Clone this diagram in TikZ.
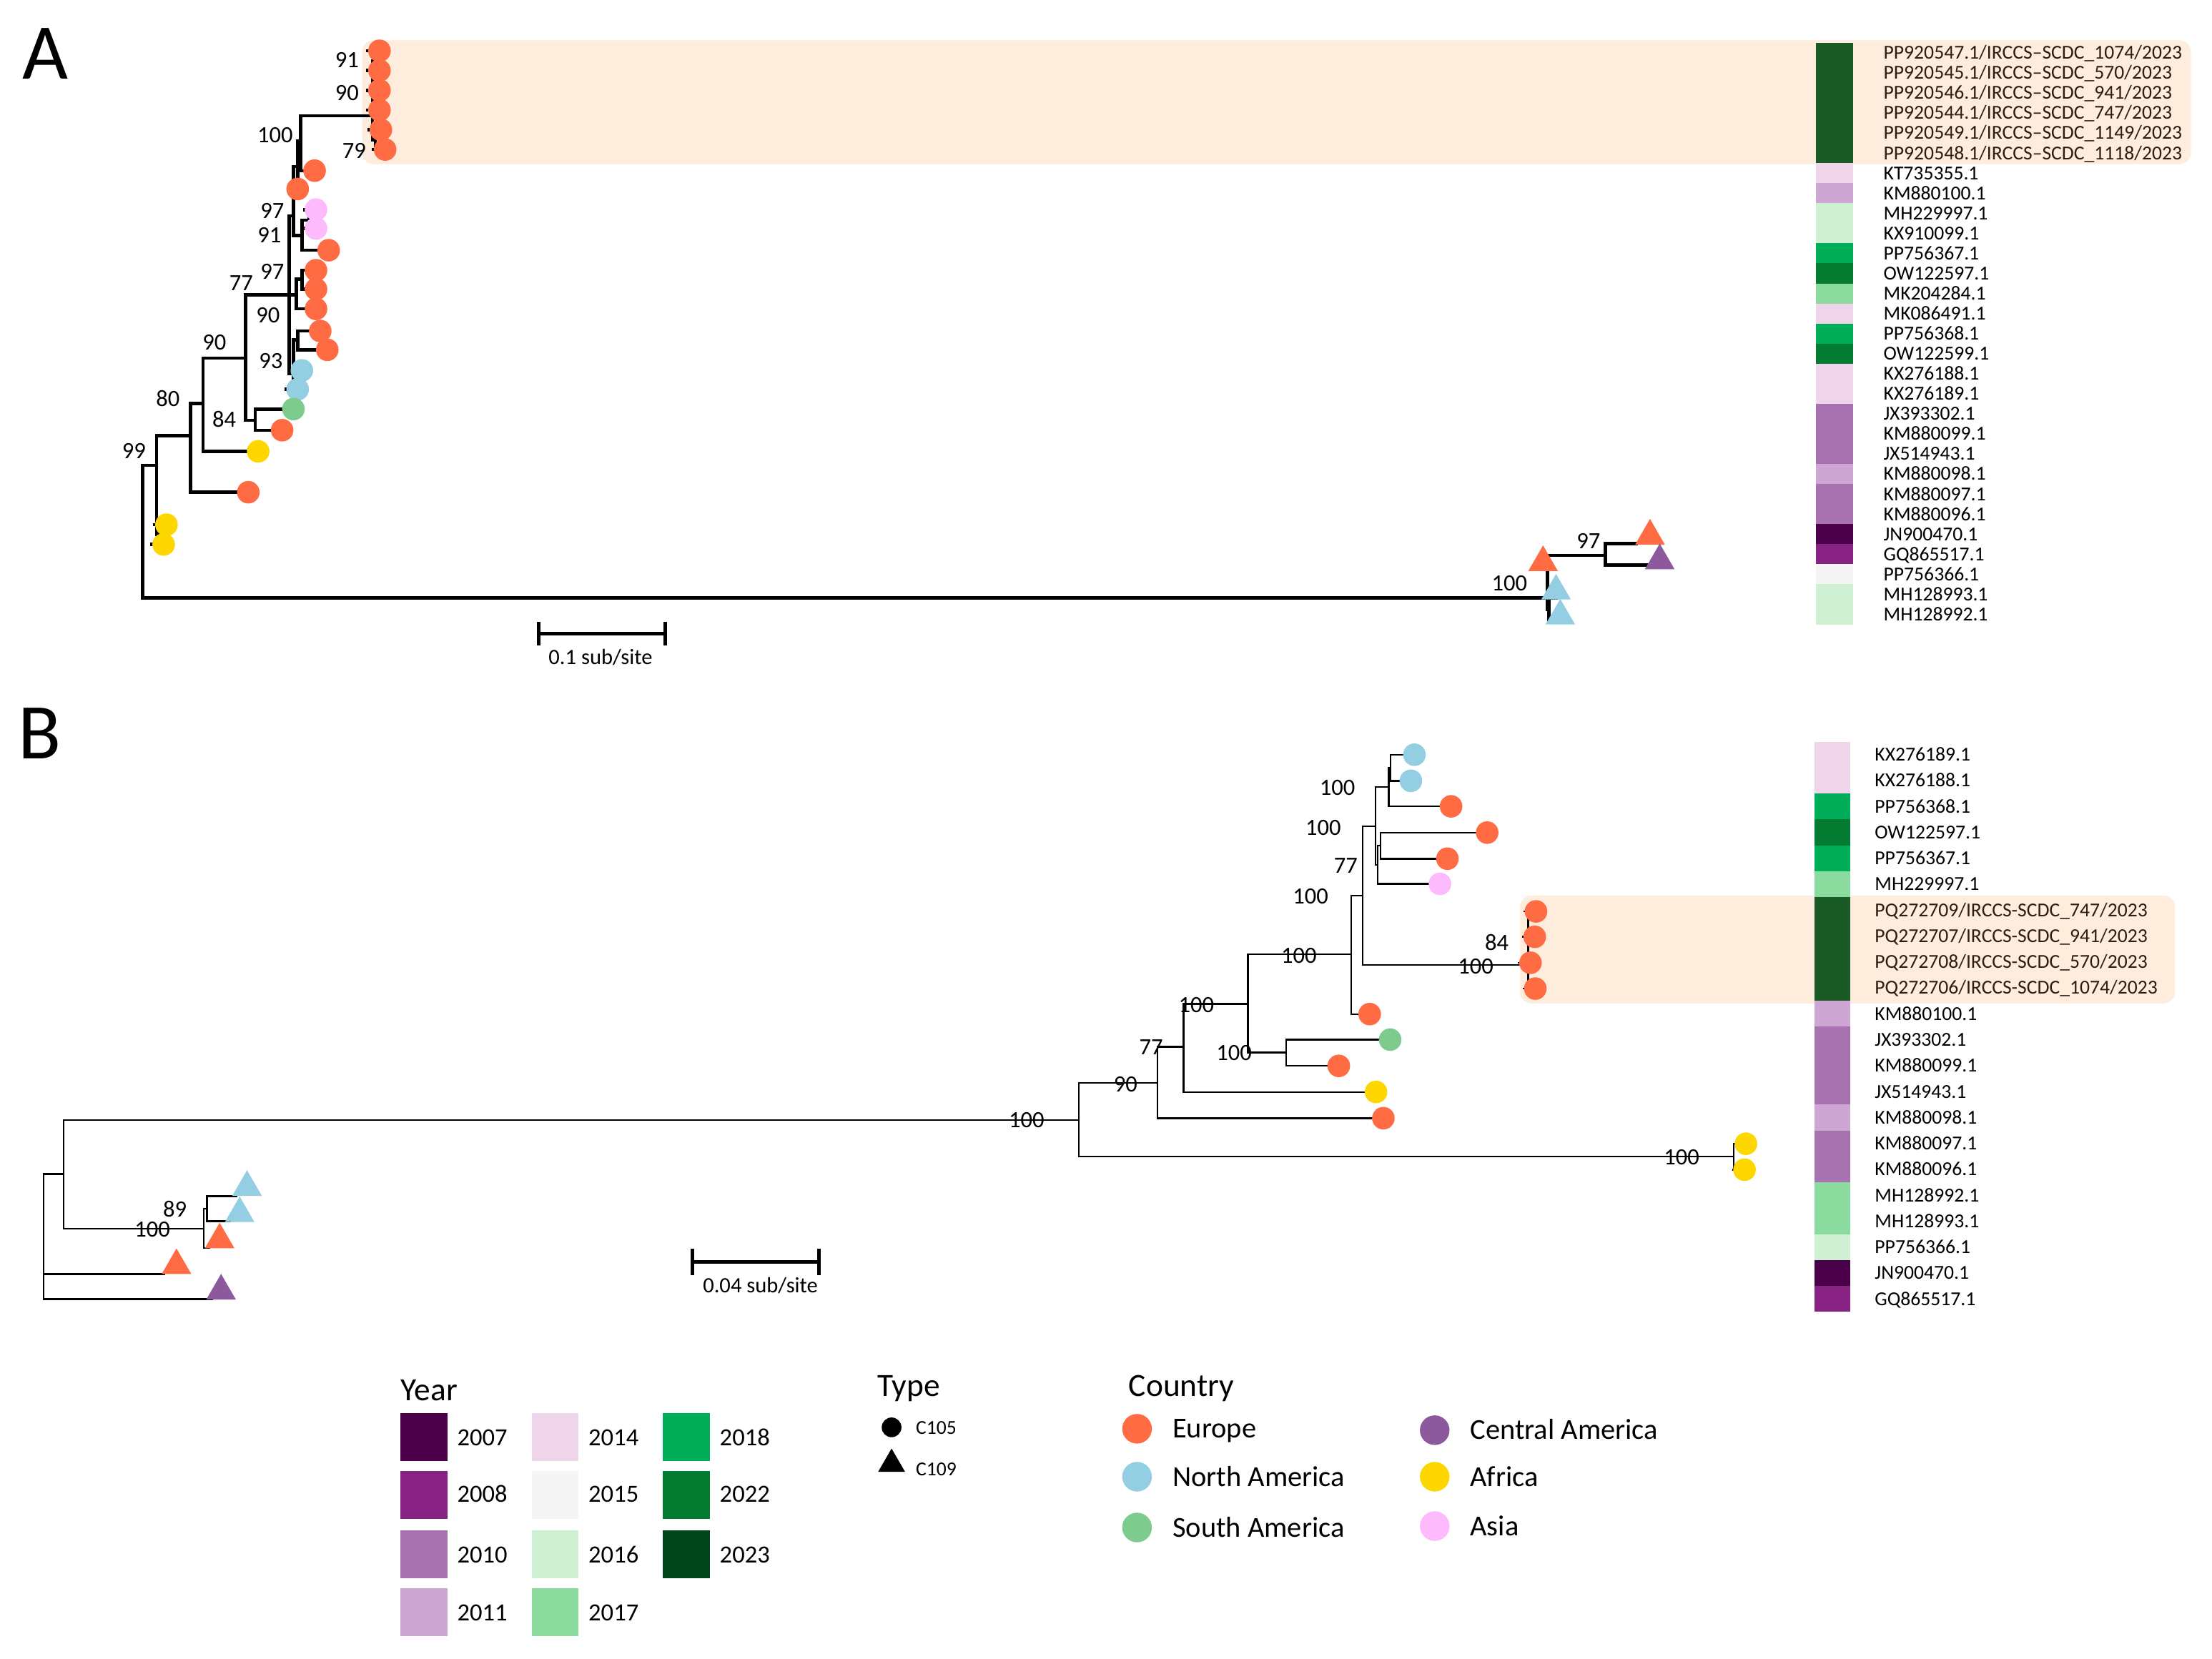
\documentclass[tikz,border=0pt]{standalone}
\usepackage{fontspec}
\setmainfont{Carlito}
\usetikzlibrary{shapes.geometric}
\pgfdeclarelayer{hlayer}
\pgfdeclarelayer{blayer}
\pgfsetlayers{hlayer,blayer,main}
\definecolor{eu}{HTML}{FF6B42}
\definecolor{na}{HTML}{93CEE3}
\definecolor{sa}{HTML}{7DCC8E}
\definecolor{ca}{HTML}{8C5A9C}
\definecolor{af}{HTML}{FFD700}
\definecolor{as}{HTML}{FDBAFD}
\definecolor{hlc}{HTML}{FEECDC}
\definecolor{y07}{HTML}{4B0149}
\definecolor{y08}{HTML}{882282}
\definecolor{y10}{HTML}{A872B0}
\definecolor{y11}{HTML}{CDA6D3}
\definecolor{y14}{HTML}{EED5EA}
\definecolor{y15}{HTML}{F5F5F5}
\definecolor{y16}{HTML}{D0F0D4}
\definecolor{y17}{HTML}{8CDB9E}
\definecolor{y18}{HTML}{00AE5A}
\definecolor{y22}{HTML}{037B30}
\definecolor{y23}{HTML}{00441B}
\definecolor{y23h}{HTML}{1A5A25}
\definecolor{hltext}{RGB}{45,30,20}
\tikzset{
  fs/.style={font=\fontsize{#1}{#1}\selectfont},
  tiplab/.style={anchor=base west, inner sep=0pt, font=\fontsize{14}{14}\selectfont},
  bootlab/.style={anchor=base, inner sep=0pt, font=\fontsize{16.5}{16.5}\selectfont},
  cir/.style={circle, fill=#1, draw=none, inner sep=0pt, minimum size=16pt},
  tri/.style={regular polygon, regular polygon sides=3, fill=#1, draw=none, inner sep=0pt, minimum size=24.2pt},
  brA/.style={line width=2.3pt, line cap=rect, line join=miter},
  brB/.style={line width=1.2pt, line cap=rect, line join=miter},
  sbar/.style={line width=2.6pt},
  hlbox/.style={fill=hlc, draw=none, rounded corners=8pt},
  leglab/.style={anchor=base west, inner sep=0pt},
}
\newcommand{\yA}[4]{%
  \fill[#2] (1287.2,{30.3+(#1-1)*14.22}) rectangle (1313.8,{30.3+(#1)*14.22});
  \node[tiplab, text=#4] (lA#1) at (1335,{30.3+(#1-0.5)*14.22+4.5}) {#3};}
\newcommand{\yB}[4]{%
  \fill[#2] (1286.1,{525.8+(#1-1)*18.38}) rectangle (1311.8,{525.8+(#1)*18.38});
  \node[tiplab, text=#4] (lB#1) at (1328.8,{525.8+(#1-0.5)*18.38+4.5}) {#3};}
\newcommand{\bs}[4]{\node[bootlab] (#1) at (#2,{#3+5}) {#4};}
\begin{document}
\begin{tikzpicture}[x=1pt,y=-1pt]
\useasboundingbox (0,0) rectangle (1568,1176);

% background and highlights
\begin{pgfonlayer}{hlayer}
\fill[white] (0,0) rectangle (1568,1176);
\fill[hlbox] (256.8,28.6) rectangle (1553,116.4);
\fill[hlbox] (1077.6,634.9) rectangle (1541.6,711.4);
\end{pgfonlayer}

% panel letters
\node[fs=56, inner sep=0pt] (panA) at (32,38) {A};
\node[fs=56, inner sep=0pt] (panB) at (28,520) {B};

% ---------------- Panel A year strip and labels
\yA{1}{y23h}{PP920547.1/IRCCS–SCDC\_1074/2023}{hltext}
\yA{2}{y23h}{PP920545.1/IRCCS–SCDC\_570/2023}{hltext}
\yA{3}{y23h}{PP920546.1/IRCCS–SCDC\_941/2023}{hltext}
\yA{4}{y23h}{PP920544.1/IRCCS–SCDC\_747/2023}{hltext}
\yA{5}{y23h}{PP920549.1/IRCCS–SCDC\_1149/2023}{hltext}
\yA{6}{y23h}{PP920548.1/IRCCS–SCDC\_1118/2023}{hltext}
\yA{7}{y14}{KT735355.1}{black}
\yA{8}{y11}{KM880100.1}{black}
\yA{9}{y16}{MH229997.1}{black}
\yA{10}{y16}{KX910099.1}{black}
\yA{11}{y18}{PP756367.1}{black}
\yA{12}{y22}{OW122597.1}{black}
\yA{13}{y17}{MK204284.1}{black}
\yA{14}{y14}{MK086491.1}{black}
\yA{15}{y18}{PP756368.1}{black}
\yA{16}{y22}{OW122599.1}{black}
\yA{17}{y14}{KX276188.1}{black}
\yA{18}{y14}{KX276189.1}{black}
\yA{19}{y10}{JX393302.1}{black}
\yA{20}{y10}{KM880099.1}{black}
\yA{21}{y10}{JX514943.1}{black}
\yA{22}{y11}{KM880098.1}{black}
\yA{23}{y10}{KM880097.1}{black}
\yA{24}{y10}{KM880096.1}{black}
\yA{25}{y07}{JN900470.1}{black}
\yA{26}{y08}{GQ865517.1}{black}
\yA{27}{y15}{PP756366.1}{black}
\yA{28}{y16}{MH128993.1}{black}
\yA{29}{y16}{MH128992.1}{black}

% ---------------- Panel A tips
\node[cir=eu] (a1) at (269,36) {};
\node[cir=eu] (a2) at (269,50) {};
\node[cir=eu] (a3) at (269,64) {};
\node[cir=eu] (a4) at (269,78) {};
\node[cir=eu] (a5) at (270,92) {};
\node[cir=eu] (a6) at (273,106) {};
\node[cir=eu] (a7) at (223,121) {};
\node[cir=eu] (a8) at (211,134) {};
\node[cir=as] (a9) at (224,148.6) {};
\node[cir=as] (a10) at (224,162) {};
\node[cir=eu] (a11) at (233,177.4) {};
\node[cir=eu] (a12) at (224,191.6) {};
\node[cir=eu] (a13) at (224,205) {};
\node[cir=eu] (a14) at (224,219) {};
\node[cir=eu] (a15) at (227,234.7) {};
\node[cir=eu] (a16) at (232,248) {};
\node[cir=na] (a17) at (214,262.6) {};
\node[cir=na] (a18) at (211,276) {};
\node[cir=sa] (a19) at (208,290) {};
\node[cir=eu] (a20) at (200,305) {};
\node[cir=af] (a21) at (183,320) {};
\node[cir=eu] (a22) at (176,349) {};
\node[cir=af] (a23) at (118,372) {};
\node[cir=af] (a24) at (116,386) {};
\node[tri=eu] (at1) at (1169.6,380) {};
\node[tri=ca] (at2) at (1176.5,397.5) {};
\node[tri=eu] (at3) at (1093.8,398.8) {};
\node[tri=na] (at4) at (1103,419) {};
\node[tri=na] (at5) at (1106,436.7) {};

% ---------------- Panel A branches
\begin{pgfonlayer}{blayer}
\draw[brA] (111,330) -- (101,330) -- (101,424) -- (1096.8,424);
\draw[brA] (135,309) -- (111,309) -- (111,379) -- (113,379);
\draw[brA] (a23) -- (113,372) -- (113,386) -- (a24);
\draw[brA] (144,286) -- (135,286) -- (135,349) -- (a22);
\draw[brA] (174,254) -- (144,254) -- (144,320) -- (a21);
\draw[brA] (205,209) -- (174,209) -- (174,298) -- (181,298);
\draw[brA] (a19) -- (181,290) -- (181,305) -- (a20);
\draw[brA] (205,153) -- (205,265);
\draw[brA] (205,153) -- (208,153);
\draw[brA] (205,209) -- (210,209);
\draw[brA] (205,265) -- (208,265);
\draw[brA] (211,118) -- (208,118) -- (208,167) -- (214,167);
\draw[brA] (213,100) -- (211,100) -- (211,134);
\draw[brA] (264,82) -- (213,82) -- (213,121) -- (a7);
\draw[brA] (264,43) -- (264,99);
\draw[brA] (264,43) -- (266,43);
\draw[brA] (264,71) -- (266,71);
\draw[brA] (264,99) -- (266,99);
\draw[brA] (a1) -- (266,36) -- (266,50) -- (a2);
\draw[brA] (a3) -- (266,64) -- (266,78) -- (a4);
\draw[brA] (a5) -- (266,92) -- (266,106) -- (a6);
\draw[brA] (219,156) -- (214,156) -- (214,177.4) -- (a11);
\draw[brA] (a9) -- (219,148.6) -- (219,162) -- (a10);
\draw[brA] (214,198) -- (210,198) -- (210,219) -- (a14);
\draw[brA] (a12) -- (214,191.6) -- (214,205) -- (a13);
\draw[brA] (211,241) -- (208,241) -- (208,270) -- (209,270);
\draw[brA] (a15) -- (211,234.7) -- (211,248) -- (a16);
\draw[brA] (a17) -- (209,262.6) -- (209,276) -- (a18);
% outgroup
\draw[brA] (1096.8,393.7) -- (1096.8,432) -- (1098,432);
\draw[brA] (1096.8,393.7) -- (1138,393.7);
\draw[brA] (1160,385.5) -- (1138,385.5) -- (1138,400.6) -- (1168,400.6);
\draw[brA] (1103,424) -- (1098,424) -- (1098,440) -- (1106,440);
\end{pgfonlayer}

% ---------------- Panel A bootstrap
\bs{bA1}{246}{43}{91}
\bs{bA2}{246}{66}{90}
\bs{bA3}{195}{96}{100}
\bs{bA4}{251}{107}{79}
\bs{bA5}{193}{150}{97}
\bs{bA6}{191}{167}{91}
\bs{bA7}{193}{193}{97}
\bs{bA8}{171}{201}{77}
\bs{bA9}{190}{224}{90}
\bs{bA10}{192}{256}{93}
\bs{bA11}{152}{243}{90}
\bs{bA12}{119}{283}{80}
\bs{bA13}{159}{298}{84}
\bs{bA14}{95}{320}{99}
\bs{bA15}{1070}{414}{100}
\bs{bA16}{1126}{384}{97}

% scale bar A
\coordinate (sa1) at (381.8,449.4);
\coordinate (sa2) at (471.4,449.4);
\draw[sbar] (sa1) -- (sa2);
\draw[sbar] (381.8,441) -- (381.8,457.8);
\draw[sbar] (471.4,441) -- (471.4,457.8);
\node[fs=15.5, inner sep=0pt] (sbA) at (425.7,466) {0.1 sub/site};

% ---------------- Panel B year strip and labels
\yB{1}{y14}{KX276189.1}{black}
\yB{2}{y14}{KX276188.1}{black}
\yB{3}{y18}{PP756368.1}{black}
\yB{4}{y22}{OW122597.1}{black}
\yB{5}{y18}{PP756367.1}{black}
\yB{6}{y17}{MH229997.1}{black}
\yB{7}{y23h}{PQ272709/IRCCS-SCDC\_747/2023}{hltext}
\yB{8}{y23h}{PQ272707/IRCCS-SCDC\_941/2023}{hltext}
\yB{9}{y23h}{PQ272708/IRCCS-SCDC\_570/2023}{hltext}
\yB{10}{y23h}{PQ272706/IRCCS-SCDC\_1074/2023}{hltext}
\yB{11}{y11}{KM880100.1}{black}
\yB{12}{y10}{JX393302.1}{black}
\yB{13}{y10}{KM880099.1}{black}
\yB{14}{y10}{JX514943.1}{black}
\yB{15}{y11}{KM880098.1}{black}
\yB{16}{y10}{KM880097.1}{black}
\yB{17}{y10}{KM880096.1}{black}
\yB{18}{y17}{MH128992.1}{black}
\yB{19}{y17}{MH128993.1}{black}
\yB{20}{y16}{PP756366.1}{black}
\yB{21}{y07}{JN900470.1}{black}
\yB{22}{y08}{GQ865517.1}{black}

% ---------------- Panel B tips
\node[cir=na] (b1) at (1002.6,535.1) {};
\node[cir=na] (b2) at (1000.1,553.6) {};
\node[cir=eu] (b3) at (1028.6,571.7) {};
\node[cir=eu] (b4) at (1054.2,590.3) {};
\node[cir=eu] (b5) at (1026,608.8) {};
\node[cir=as] (b6) at (1020.7,626.7) {};
\node[cir=eu] (b7) at (1088.8,646.2) {};
\node[cir=eu] (b8) at (1087.9,664.2) {};
\node[cir=eu] (b9) at (1084.9,682.6) {};
\node[cir=eu] (b10) at (1088.3,700.9) {};
\node[cir=eu] (b11) at (970.9,719) {};
\node[cir=sa] (b12) at (985.4,737.1) {};
\node[cir=eu] (b13) at (949,755.7) {};
\node[cir=af] (b14) at (975.4,774.2) {};
\node[cir=eu] (b15) at (980.6,792.8) {};
\node[cir=af] (b16) at (1237.6,810.9) {};
\node[cir=af] (b17) at (1236.6,829.3) {};
\node[tri=na] (bt1) at (175.1,841.8) {};
\node[tri=na] (bt2) at (169.9,860.4) {};
\node[tri=eu] (bt3) at (155.7,879) {};
\node[tri=eu] (bt4) at (125.1,897.2) {};
\node[tri=ca] (bt5) at (156.7,915.3) {};

% ---------------- Panel B branches
\begin{pgfonlayer}{blayer}
\draw[brB] (45.2,832.4) -- (31,832.4) -- (31,921.1) -- (150.3,921.1);
\draw[brB] (31,903.4) -- (116.4,903.4);
\draw[brB] (764.8,794.1) -- (45.2,794.1) -- (45.2,871) -- (144.5,871);
\draw[brB] (146.8,857) -- (144.5,857) -- (144.5,884.8) -- (148.4,884.8);
\draw[brB] (167.8,848) -- (146.8,848) -- (146.8,865.9) -- (162.9,865.9);
\draw[brB] (820.5,767.7) -- (764.8,767.7) -- (764.8,820.1) -- (1228.9,820.1);
\draw[brB] (b16) -- (1228.9,810.9) -- (1228.9,829.3) -- (b17);
\draw[brB] (839,742.1) -- (820.5,742.1) -- (820.5,792.8) -- (b15);
\draw[brB] (884.5,711.8) -- (839,711.8) -- (839,774.2) -- (b14);
\draw[brB] (957.8,676.7) -- (884.5,676.7) -- (884.5,746.2) -- (911.6,746.2);
\draw[brB] (b12) -- (911.6,737.1) -- (911.6,755.7) -- (b13);
\draw[brB] (966,634.9) -- (957.8,634.9) -- (957.8,719) -- (b11);
\draw[brB] (975,585.8) -- (966,585.8) -- (966,684.2) -- (1083.3,684.2);
\draw[brB] (b7) -- (1083.3,646.2) -- (1083.3,700.9) -- (b10);
\draw[brB] (1083.3,664.2) -- (b8);
\draw[brB] (1083.3,682.6) -- (b9);
\draw[brB] (984.5,557.9) -- (975,557.9) -- (975,613.1) -- (976.6,613.1);
\draw[brB] (985.8,544.4) -- (984.5,544.4) -- (984.5,571.7) -- (b3);
\draw[brB] (b1) -- (985.8,535.1) -- (985.8,553.6) -- (b2);
\draw[brB] (978.6,599.6) -- (976.6,599.6) -- (976.6,626.7) -- (b6);
\draw[brB] (b4) -- (978.6,590.3) -- (978.6,608.8) -- (b5);
\end{pgfonlayer}

% ---------------- Panel B bootstrap
\bs{bB1}{948}{559}{100}
\bs{bB2}{938}{587}{100}
\bs{bB3}{954}{614}{77}
\bs{bB4}{929}{636}{100}
\bs{bB5}{920.7}{678}{100}
\bs{bB6}{1061}{669}{84}
\bs{bB7}{1046}{685.5}{100}
\bs{bB8}{848}{713}{100}
\bs{bB9}{874.8}{747}{100}
\bs{bB10}{816}{743}{77}
\bs{bB11}{797.8}{769}{90}
\bs{bB12}{727.7}{794.6}{100}
\bs{bB13}{1192}{821}{100}
\bs{bB14}{124}{858}{89}
\bs{bB15}{108}{872}{100}

% scale bar B
\coordinate (sb1) at (490.8,894.6);
\coordinate (sb2) at (580.7,894.6);
\draw[sbar] (sb1) -- (sb2);
\draw[sbar] (490.8,885.3) -- (490.8,903.9);
\draw[sbar] (580.7,885.3) -- (580.7,903.9);
\node[fs=15.5, inner sep=0pt] (sbB) at (539,911.5) {0.04 sub/site};

% ---------------- Legend: Year
\node[leglab, fs=23] (legY) at (284,993) {Year};
\fill[y07] (284,1002) rectangle (317,1036); \node[leglab, fs=17.5] (ly07) at (324,1025) {2007};
\fill[y08] (284,1043) rectangle (317,1077); \node[leglab, fs=17.5] (ly08) at (324,1065) {2008};
\fill[y10] (284,1085) rectangle (317,1119); \node[leglab, fs=17.5] (ly10) at (324,1108) {2010};
\fill[y11] (284,1126) rectangle (317,1160); \node[leglab, fs=17.5] (ly11) at (324,1149) {2011};
\fill[y14] (377,1002) rectangle (410,1036); \node[leglab, fs=17.5] (ly14) at (417,1025) {2014};
\fill[y15] (377,1043) rectangle (410,1077); \node[leglab, fs=17.5] (ly15) at (417,1065) {2015};
\fill[y16] (377,1085) rectangle (410,1119); \node[leglab, fs=17.5] (ly16) at (417,1108) {2016};
\fill[y17] (377,1126) rectangle (410,1160); \node[leglab, fs=17.5] (ly17) at (417,1149) {2017};
\fill[y18] (470,1002) rectangle (503,1036); \node[leglab, fs=17.5] (ly18) at (510,1025) {2018};
\fill[y22] (470,1043) rectangle (503,1077); \node[leglab, fs=17.5] (ly22) at (510,1065) {2022};
\fill[y23] (470,1085) rectangle (503,1119); \node[leglab, fs=17.5] (ly23) at (510,1108) {2023};

% ---------------- Legend: Type
\node[leglab, fs=23] (legT) at (622,990) {Type};
\node[circle, fill=black, inner sep=0pt, minimum size=14pt] (lt1) at (632,1012) {};
\node[leglab, fs=14] (ltl1) at (649,1017) {C105};
\node[tri=black, minimum size=22pt] (lt2) at (632,1038) {};
\node[leglab, fs=14] (ltl2) at (649,1046) {C109};

% ---------------- Legend: Country
\node[leglab, fs=23] (legC) at (800,990) {Country};
\node[circle, fill=eu, inner sep=0pt, minimum size=21pt] (lc1) at (806,1013) {};
\node[leglab, fs=20.5] (lcl1) at (831,1019.6) {Europe};
\node[circle, fill=na, inner sep=0pt, minimum size=21pt] (lc2) at (806,1047) {};
\node[leglab, fs=20.5] (lcl2) at (831,1053.6) {North America};
\node[circle, fill=sa, inner sep=0pt, minimum size=21pt] (lc3) at (806,1083) {};
\node[leglab, fs=20.5] (lcl3) at (831,1089.6) {South America};
\node[circle, fill=ca, inner sep=0pt, minimum size=21pt] (lc4) at (1017,1014) {};
\node[leglab, fs=20.5] (lcl4) at (1042,1020.6) {Central America};
\node[circle, fill=af, inner sep=0pt, minimum size=21pt] (lc5) at (1017,1047) {};
\node[leglab, fs=20.5] (lcl5) at (1042,1053.6) {Africa};
\node[circle, fill=as, inner sep=0pt, minimum size=21pt] (lc6) at (1017,1082) {};
\node[leglab, fs=20.5] (lcl6) at (1042,1088.6) {Asia};
\end{tikzpicture}
\end{document}
